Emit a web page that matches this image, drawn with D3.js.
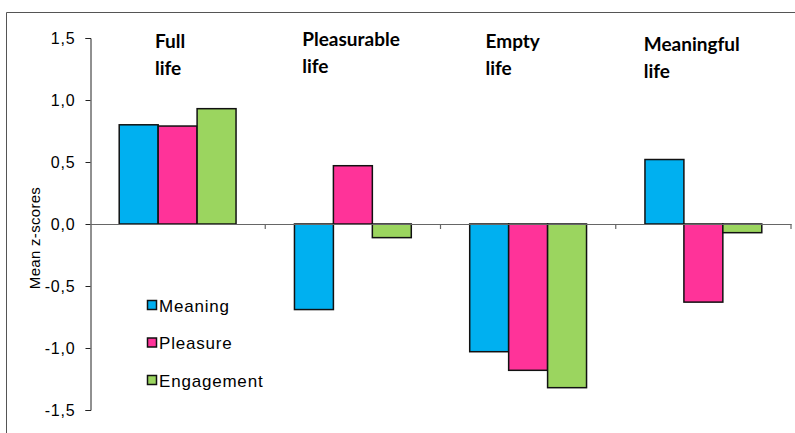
<!DOCTYPE html>
<html>
<head>
<meta charset="utf-8">
<script src="https://cdn.jsdelivr.net/npm/d3@7"></script>
<style>
  html, body { margin: 0; padding: 0; background: #fff; }
  svg { display: block; }
</style>
</head>
<body>
<svg id="chart" width="795" height="433"></svg>
<script>
// Life orientation groups and their mean z-scores per dimension
const categories = ["Full life", "Pleasurable life", "Empty life", "Meaningful life"];
const categoryLines = [["Full", "life"], ["Pleasurable", "life"], ["Empty", "life"], ["Meaningful", "life"]];
const seriesNames = ["Meaning", "Pleasure", "Engagement"];
const meaning = [0.80, -0.69, -1.03, 0.52];
const pleasure = [0.79, 0.47, -1.18, -0.63];
const engagement = [0.93, -0.11, -1.32, -0.07];
const yTicks = [1.5, 1.0, 0.5, 0.0, -0.5, -1.0, -1.5];

const colors = ["#00B0F0", "#FF3399", "#9BD55F"];
const seriesValues = [meaning, pleasure, engagement];

// Text-box placement of each group heading (offset from band start, baseline)
const headingLayout = [
  { dx: 65, y: 48 },
  { dx: 37, y: 46 },
  { dx: 45, y: 48 },
  { dx: 28, y: 51 }
];

const svg = d3.select("#chart");

// outer frame (top and left edges)
svg.append("line").attr("x1", 6.5).attr("x2", 795).attr("y1", 12.5).attr("y2", 12.5)
  .attr("stroke", "#555").attr("stroke-width", 1);
svg.append("line").attr("x1", 6.5).attr("x2", 6.5).attr("y1", 12.5).attr("y2", 433)
  .attr("stroke", "#555").attr("stroke-width", 1);

const plotLeft = 90, plotRight = 791;
const y = d3.scaleLinear().domain([-1.5, 1.5]).range([410, 38]);

const x0 = d3.scaleBand().domain(categories).range([plotLeft, plotRight]).padding(0);
const x1 = d3.scaleBand().domain(seriesNames).range([0, x0.bandwidth()])
  .paddingInner(0).paddingOuter(0.75);

const fmt = v => d3.format(".1f")(v).replace(".", ",").replace("−", "-");

// y axis
const yAxis = d3.axisLeft(y).tickValues(yTicks).tickSize(5).tickPadding(10).tickFormat(fmt);
const gy = svg.append("g").attr("transform", `translate(${plotLeft + 0.5},0)`).call(yAxis);
gy.select(".domain").attr("stroke", "#222").attr("stroke-width", 1);
gy.selectAll(".tick line").attr("stroke", "#222");
gy.selectAll(".tick text")
  .attr("font-family", "Liberation Sans, Arial, sans-serif")
  .attr("font-size", 16).attr("letter-spacing", 0.8).attr("fill", "#000");

// axis title
svg.append("text")
  .attr("transform", `translate(40,${y(0) + 14}) rotate(-90)`)
  .attr("text-anchor", "middle")
  .attr("font-family", "Liberation Sans, Arial, sans-serif")
  .attr("font-size", 15).attr("letter-spacing", 0.3).attr("fill", "#000")
  .text("Mean z-scores");

// bars
const groups = svg.append("g").selectAll("g")
  .data(categories).join("g")
  .attr("transform", d => `translate(${x0(d)},0)`);

groups.selectAll("rect")
  .data((d, i) => seriesNames.map((s, k) => ({ s, k, v: seriesValues[k][i] })))
  .join("rect")
  .attr("x", d => x1(d.s))
  .attr("width", x1.bandwidth())
  .attr("y", d => y(Math.max(0, d.v)))
  .attr("height", d => Math.abs(y(d.v) - y(0)))
  .attr("fill", d => colors[d.k])
  .attr("stroke", "#111")
  .attr("stroke-width", 1.5);

// category axis along zero
const xAxis = d3.axisBottom(x0).tickSize(0).tickFormat("");
const gx = svg.append("g").attr("transform", `translate(0,${y(0)})`).call(xAxis);
gx.select(".domain").attr("stroke", "#666").attr("stroke-width", 1.2);
const boundaries = categories.map(c => x0(c) + x0.bandwidth());
gx.selectAll("line.sep").data(boundaries).join("line")
  .attr("class", "sep")
  .attr("x1", d => d).attr("x2", d => d)
  .attr("y1", 0).attr("y2", 5)
  .attr("stroke", "#666").attr("stroke-width", 1.2);
// keep zero line above bar edges
gx.raise();

// group headings
categories.forEach((c, i) => {
  const t = svg.append("text")
    .attr("font-family", "Lato, 'Open Sans', sans-serif")
    .attr("font-weight", "bold")
    .attr("font-size", 19)
    .attr("fill", "#000");
  categoryLines[i].forEach((line, j) => {
    t.append("tspan")
      .attr("x", x0(c) + headingLayout[i].dx)
      .attr("y", headingLayout[i].y + j * 27)
      .text(line);
  });
});

// legend
const legend = svg.append("g").attr("transform", "translate(147,300)");
seriesNames.forEach((s, k) => {
  const g = legend.append("g").attr("transform", `translate(0,${k * 37.5})`);
  g.append("rect").attr("x", 0.5).attr("y", 0.5).attr("width", 9).attr("height", 9)
    .attr("fill", colors[k]).attr("stroke", "#111").attr("stroke-width", 1.5);
  g.append("text").attr("x", 12).attr("y", 11.5)
    .attr("font-family", "Liberation Sans, Arial, sans-serif")
    .attr("font-size", 17).attr("letter-spacing", 0.8).attr("fill", "#000")
    .text(s);
});
</script>
</body>
</html>
